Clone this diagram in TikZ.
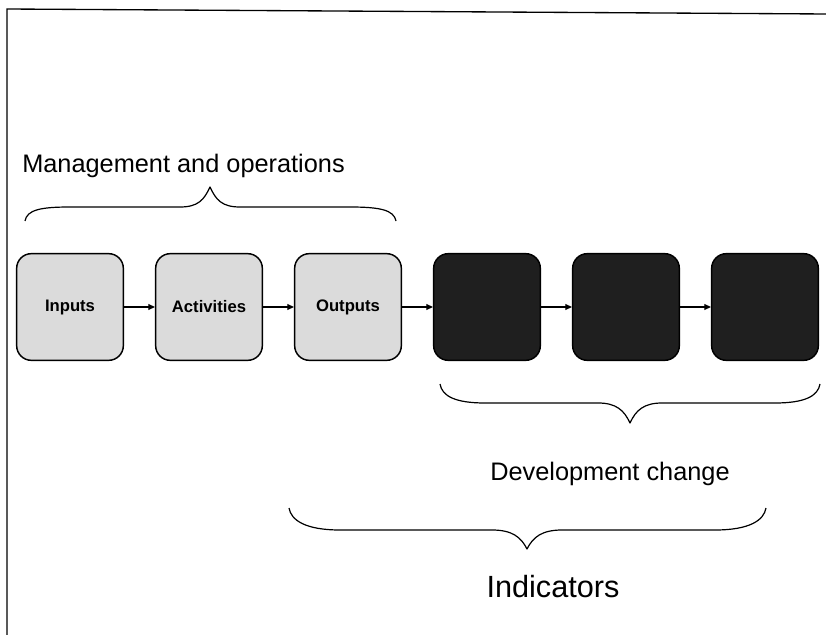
\documentclass[tikz,border=0pt]{standalone}
\usepackage{fontspec}
\setmainfont{Liberation Sans}
\usetikzlibrary{arrows.meta}

\tikzset{
  stage/.style={draw=black, line width=1.1pt, rounded corners=11pt,
    minimum width=80pt, minimum height=80pt, inner sep=0pt,
    font=\bfseries\fontsize{12.5pt}{15pt}\selectfont},
  lightstage/.style={stage, fill=black!14},
  darkstage/.style={stage, fill=black!88},
  flow/.style={-{Triangle[length=5pt,width=4.5pt]}, line width=0.9pt},
  brace/.style={line width=0.9pt, line join=round},
  label/.style={font=\fontsize{19pt}{22pt}\selectfont, inner sep=0pt},
  biglabel/.style={font=\fontsize{23pt}{27pt}\selectfont, inner sep=0pt}
}

\begin{document}
\begin{tikzpicture}[x=0.75pt, y=-0.75pt]
  \useasboundingbox (0,0) rectangle (826,635);

  % frame edges
  \draw[line width=1pt] (7,636) -- (7,9) -- (827,14);

  % stages of the chain
  \node[lightstage] (inputs)     at (70,307)  {Inputs};
  \node[lightstage] (activities) at (209,307) {Activities};
  \node[lightstage] (outputs)    at (348,307) {Outputs};
  \node[darkstage]  (out1)       at (487,307) {};
  \node[darkstage]  (out2)       at (626,307) {};
  \node[darkstage]  (out3)       at (765,307) {};

  \draw[flow] (inputs) -- (activities);
  \draw[flow] (activities) -- (outputs);
  \draw[flow] (outputs) -- (out1);
  \draw[flow] (out1) -- (out2);
  \draw[flow] (out2) -- (out3);

  % brace over the management stages (opens downward)
  \coordinate (mL) at (25,221);
  \coordinate (mT) at (210,187);
  \coordinate (mR) at (396,221);
  \draw[brace] (mL) .. controls (27,210) and (40,207) .. (70,207)
    -- (180,207) .. controls (198,207) and (204,200) .. (mT)
    .. controls (216,200) and (222,207) .. (240,207)
    -- (350,207) .. controls (380,207) and (394,210) .. (mR);
  \node[label, anchor=base west] (mgmt) at (22,172) {Management and operations};

  % brace under the development stages
  \coordinate (dL) at (440,384);
  \coordinate (dT) at (630,423);
  \coordinate (dR) at (820,384);
  \draw[brace] (dL) .. controls (442,396) and (455,403) .. (485,403)
    -- (598,403) .. controls (616,403) and (624,410) .. (dT)
    .. controls (636,410) and (644,403) .. (662,403)
    -- (775,403) .. controls (805,403) and (818,396) .. (dR);
  \node[label, anchor=base] (devch) at (610,480) {Development change};

  % brace under outputs and development stages
  \coordinate (iL) at (289,508);
  \coordinate (iT) at (527,549);
  \coordinate (iR) at (766,508);
  \draw[brace] (iL) .. controls (291,520) and (305,530) .. (340,530)
    -- (492,530) .. controls (512,530) and (521,537) .. (iT)
    .. controls (533,537) and (542,530) .. (562,530)
    -- (715,530) .. controls (750,530) and (764,520) .. (iR);
  \node[biglabel, anchor=base] (ind) at (553,597) {Indicators};
\end{tikzpicture}
\end{document}
